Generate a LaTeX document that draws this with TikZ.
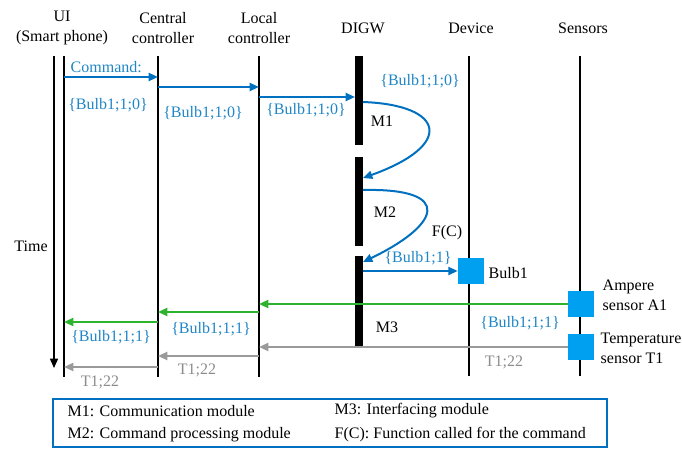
\documentclass[tikz,border=0pt]{standalone}
\usepackage{fontspec}
\setmainfont{Liberation Serif}
\usetikzlibrary{arrows.meta}
\definecolor{cmdblue}{HTML}{0070C0}
\definecolor{lblblue}{HTML}{1F86C6}
\definecolor{okgreen}{HTML}{2DB32D}
\definecolor{arrgrey}{HTML}{9A9A9A}
\definecolor{txtgrey}{HTML}{8C8C8C}
\definecolor{sqblue}{HTML}{00A0F0}
\begin{document}
\begin{tikzpicture}[x=0.75pt,y=-0.75pt,
		font=\fontsize{12}{15}\selectfont,
		life/.style={line width=1.1pt},
		msg/.style={line width=1.5pt,-{Triangle[length=7pt,width=6pt]}},
		blu/.style={msg,cmdblue},
		grn/.style={msg,okgreen},
		gry/.style={msg,arrgrey},
		bl/.style={text=lblblue},
		gl/.style={text=txtgrey},
		sq/.style={fill=sqblue,minimum size=19.5pt,inner sep=0pt}]
		\useasboundingbox (0,0) rectangle (682,449);
		% headers
		\node[align=center] (ui) at (62,28) {UI\\(Smart phone)};
		\node[align=center] (cc) at (163,28) {Central\\controller};
		\node[align=center] (lc) at (259,28) {Local\\controller};
		\node (digw) at (363,28) {DIGW};
		\node (dev) at (471,28) {Device};
		\node (sen) at (583,28) {Sensors};
		% lifelines
		\coordinate (uiT) at (64,56);  \coordinate (uiB) at (64,377);
		\coordinate (ccT) at (158,56); \coordinate (ccB) at (158,377);
		\coordinate (lcT) at (259,56); \coordinate (lcB) at (259,377);
		\coordinate (devT) at (469,56); \coordinate (devB) at (469,376);
		\coordinate (senT) at (580,56); \coordinate (senB) at (580,376);
		\draw[life] (uiT)--(uiB);
		\draw[life] (ccT)--(ccB);
		\draw[life] (lcT)--(lcB);
		\draw[life] (devT)--(devB);
		\draw[life] (senT)--(senB);
		\coordinate (tT) at (54,56); \coordinate (tB) at (54,368);
		\draw[life,-{Triangle[length=7pt,width=6pt]}] (tT)--(tB);
		\node (time) at (31,246) {Time};
		% DIGW
		\fill (355,56) rectangle (363,145);
		\fill (355,157) rectangle (363,246);
		\fill (355,256) rectangle (363,347);
		% command
		\draw[blu] (uiT |- 0,77)--(ccT |- 0,77);
		\draw[blu] (ccT |- 0,87)--(lcT |- 0,87);
		\draw[blu] (lcT |- 0,97)--(355,97);
		\node[bl,anchor=west] (cmd) at (66,67) {Command:};
		\node[bl] (l1) at (108,105) {\{Bulb1;1;0\}};
		\node[bl] (l2) at (203,113) {\{Bulb1;1;0\}};
		\node[bl] (l3) at (306,110) {\{Bulb1;1;0\}};
		\node[bl] (l4) at (420,81) {\{Bulb1;1;0\}};
		\coordinate (k1) at (363,102); \coordinate (k2) at (363,178);
		\coordinate (k3) at (363,190); \coordinate (k4) at (363,262);
		\draw[blu] (k1) .. controls (445,105) and (455,145) .. (k2);
		\draw[blu] (k3) .. controls (455,188) and (440,225) .. (k4);
		\node (m1) at (382,121) {M1};
		\node (m2) at (385,212) {M2};
		\node (m3) at (387,327) {M3};
		\node (fc) at (447,233) {F(C)};
		% device
		\node[sq] (bulb) at (471,271) {};
		\node[anchor=west] (bulbt) at (484,273) {Bulb1};
		\draw[blu] (363,271)--(bulb.west);
		\node[bl] (l5) at (418,258) {\{Bulb1;1\}};
		% sensors
		\node[sq] (amp) at (581,304) {};
		\node[sq] (temp) at (581,347) {};
		\node[anchor=west,align=left] (ampt) at (598,295) {Ampere\\sensor A1};
		\node[anchor=west,align=left] (tempt) at (596,348) {Temperature\\sensor T1};
		\draw[grn] (amp.west)--(amp.west -| lcT);
		\draw[grn] (lcT |- 0,312)--(ccT |- 0,312);
		\draw[grn] (ccT |- 0,322)--(uiT |- 0,322);
		\node[bl] (l6) at (520,323) {\{Bulb1;1;1\}};
		\node[bl] (l7) at (211,329) {\{Bulb1;1;1\}};
		\node[bl] (l8) at (111,337) {\{Bulb1;1;1\}};
		\draw[gry] (temp.west)--(temp.west -| lcT);
		\draw[gry] (lcT |- 0,356)--(ccT |- 0,356);
		\draw[gry] (ccT |- 0,367)--(uiT |- 0,367);
		\node[gl] (t1) at (504,362) {T1;22};
		\node[gl] (t2) at (197,370) {T1;22};
		\node[gl] (t3) at (100,382) {T1;22};
		% legend
		\draw[cmdblue,line width=1.5pt] (53,399) rectangle (607,447);
		\node[anchor=west] (k1t) at (63,411) {M1: Communication module};
		\node[anchor=west] (k2t) at (63,435) {M2: Command processing module};
		\node[anchor=west] (k3t) at (330,411) {M3: Interfacing module};
		\node[anchor=west] (k4t) at (330,435) {F(C): Function called for the command};
	\end{tikzpicture}
\end{document}
